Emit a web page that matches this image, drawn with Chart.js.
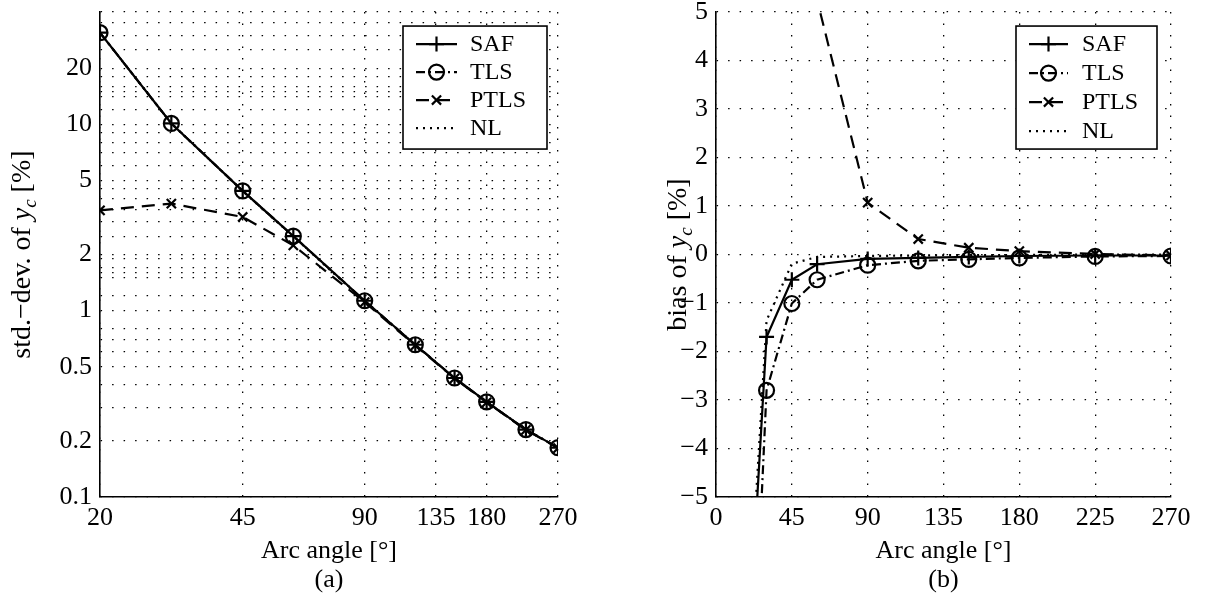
<!DOCTYPE html>
<html>
<head>
<meta charset="utf-8">
<script src="https://cdn.jsdelivr.net/npm/chart.js@4"></script>
<style>
  html, body { margin: 0; padding: 0; background: #fff; }
  body { width: 1211px; height: 598px; position: relative; overflow: hidden; }
  canvas { position: absolute; top: -7px; }
  #chart-a { left: 0; }
  #chart-b { left: 605px; }
</style>
</head>
<body>
<canvas id="chart-a" width="605" height="605"></canvas>
<canvas id="chart-b" width="606" height="605"></canvas>
<script>
const angles = [20, 30, 45, 60, 90, 120, 150, 180, 225, 270];

// (a) std.-dev. of y_c [%]
const stdSAF  = [31.0, 10.1, 4.39, 2.51, 1.13, 0.656, 0.435, 0.324, 0.230, 0.184];
const stdTLS  = [31.0, 10.1, 4.39, 2.51, 1.13, 0.656, 0.435, 0.324, 0.230, 0.184];
const stdPTLS = [3.45, 3.75, 3.18, 2.24, 1.11, 0.650, 0.433, 0.322, 0.229, 0.183];
const stdNL   = [31.0, 10.1, 4.38, 2.50, 1.12, 0.654, 0.434, 0.323, 0.230, 0.184];

// (b) bias of y_c [%]
const biasSAF  = [-7.7, -1.70, -0.52, -0.20, -0.09, -0.07, -0.05, -0.03, -0.02, -0.02];
const biasTLS  = [-10.4, -2.80, -1.01, -0.52, -0.22, -0.13, -0.10, -0.07, -0.04, -0.03];
const biasPTLS = [40, 22, 10, 5.25, 1.07, 0.32, 0.14, 0.07, 0.01, -0.02];
const biasNL   = [-7.2, -1.36, -0.19, -0.05, -0.03, -0.02, -0.01, -0.01, 0.0, 0.0];

const xTicksA = [20, 45, 90, 135, 180, 270];
const yTicksA = [0.1, 0.2, 0.5, 1, 2, 5, 10, 20];
const yGridA = [0.1, 0.2, 0.3, 0.4, 0.5, 0.6, 0.7, 0.8, 1, 1.2, 1.5, 1.6, 1.7, 1.9, 2, 2.5, 3, 3.5, 4, 4.5,
                5, 6, 7, 8, 9, 10, 12, 14, 15, 16, 18, 20, 25, 30, 35, 40];
const xTicksB = [0, 45, 90, 135, 180, 225, 270];
const yTicksB = [-5, -4, -3, -2, -1, 0, 1, 2, 3, 4, 5];

const FONT = '"Liberation Serif", "Times New Roman", serif';
Chart.defaults.font.family = FONT;
Chart.defaults.color = '#000';

const styles = {
    SAF:  { dash: [],            point: 'cross',    radius: 7.5 },
    TLS:  { dash: [9, 4, 2, 4],  point: 'circle',   radius: 7.5 },
    PTLS: { dash: [13, 8],       point: 'crossRot', radius: 6.5 },
    NL:   { dash: [2, 5],        point: false,      radius: 0 }
};

function makeDatasets(series) {
    return Object.keys(series).map(name => ({
        label: name,
        data: angles.map((a, i) => ({ x: a, y: series[name][i] })),
        borderColor: '#000',
        borderWidth: 2.2,
        borderDash: styles[name].dash,
        pointStyle: styles[name].point,
        pointRadius: styles[name].radius,
        pointBorderWidth: 2.2,
        pointBorderColor: '#000',
        pointBackgroundColor: 'rgba(0,0,0,0)',
        tension: 0
    }));
}

// y-axis title with italic y and subscript c
const yTitlePlugin = {
    id: 'yTitle',
    afterDraw(chart, args, opts) {
        const { ctx, chartArea } = chart;
        const parts = [
            { t: opts.before, font: `28px ${FONT}`, dy: 0 },
            { t: 'y', font: `italic 28px ${FONT}`, dy: 0 },
            { t: 'c', font: `italic 19px ${FONT}`, dy: 6 },
            { t: ' [%]', font: `28px ${FONT}`, dy: 0 }
        ];
        ctx.save();
        let total = 0;
        parts.forEach(p => { ctx.font = p.font; p.w = ctx.measureText(p.t).width; total += p.w; });
        ctx.translate(opts.x, (chartArea.top + chartArea.bottom) / 2);
        ctx.rotate(-Math.PI / 2);
        ctx.fillStyle = '#000';
        ctx.textBaseline = 'alphabetic';
        ctx.textAlign = 'left';
        let x = -total / 2;
        parts.forEach(p => { ctx.font = p.font; ctx.fillText(p.t, x, p.dy); x += p.w; });
        ctx.restore();
    }
};

// boxed legend in the upper right corner of the plot
const boxLegendPlugin = {
    id: 'boxLegend',
    afterDatasetsDraw(chart, args, opts) {
        const { ctx, chartArea } = chart;
        const left = chartArea.right - opts.right - opts.width;
        const top = chartArea.top + opts.top;
        ctx.save();
        ctx.fillStyle = '#fff';
        ctx.fillRect(left, top, opts.width, opts.height);
        ctx.strokeStyle = '#000';
        ctx.lineWidth = 1.6;
        ctx.strokeRect(left, top, opts.width, opts.height);
        chart.data.datasets.forEach((ds, i) => {
            const y = top + opts.firstRow + i * opts.rowGap;
            const x1 = left + opts.lineStart, x2 = left + opts.lineEnd;
            ctx.strokeStyle = '#000';
            ctx.lineWidth = ds.borderWidth;
            ctx.setLineDash(ds.borderDash);
            ctx.beginPath();
            ctx.moveTo(x1, y);
            ctx.lineTo(x2, y);
            ctx.stroke();
            ctx.setLineDash([]);
            if (ds.pointRadius > 0) {
                ctx.fillStyle = 'rgba(0,0,0,0)';
                ctx.lineWidth = ds.pointBorderWidth;
                Chart.helpers.drawPoint(ctx, {
                    pointStyle: ds.pointStyle, radius: ds.pointRadius,
                    rotation: 0, borderWidth: ds.pointBorderWidth
                }, (x1 + x2) / 2, y);
            }
            ctx.fillStyle = '#000';
            ctx.font = `24px ${FONT}`;
            ctx.textBaseline = 'middle';
            ctx.textAlign = 'left';
            ctx.fillText(ds.label, left + opts.textStart, y + 1);
        });
        ctx.restore();
    }
};

const gridStyle = { color: '#000', lineWidth: 1.3, drawTicks: false };
const borderStyle = { display: true, color: '#000', width: 1.6, dash: [1.5, 10] };
const tickFont = { size: 26, lineHeight: 0.85 };

// (a) log-log standard deviation
new Chart(document.getElementById('chart-a'), {
    type: 'line',
    data: { datasets: makeDatasets({ SAF: stdSAF, TLS: stdTLS, PTLS: stdPTLS, NL: stdNL }) },
    options: {
        responsive: false,
        animation: false,
        layout: { padding: { left: 0, right: 47, top: 0, bottom: 0 } },
        plugins: {
            legend: { display: false },
            tooltip: { enabled: false },
            yTitle: { before: 'std.\u2212dev. of ', x: 30 },
            boxLegend: { width: 144, height: 123, right: 11, top: 14, firstRow: 18, rowGap: 28,
                         lineStart: 13, lineEnd: 54, textStart: 67 }
        },
        scales: {
            x: {
                type: 'logarithmic',
                min: 20, max: 270,
                afterBuildTicks: s => { s.ticks = xTicksA.map(v => ({ value: v })); },
                afterFit: s => { s.height = 101; },
                ticks: { autoSkip: false, maxRotation: 0, padding: 10, font: tickFont,
                         callback: v => String(v) },
                grid: gridStyle,
                border: borderStyle,
                title: { display: true, text: ['Arc angle [\u00b0]', '(a)'],
                         font: { size: 26, lineHeight: 1.09 }, padding: { top: 0, bottom: 4 } }
            },
            y: {
                type: 'logarithmic',
                min: 0.1, max: 40,
                afterBuildTicks: s => { s.ticks = yGridA.map(v => ({ value: v })); },
                afterFit: s => { s.width = 100; },
                ticks: { autoSkip: false, padding: 8, font: tickFont,
                         callback: v => yTicksA.includes(v) ? String(v) : '' },
                grid: gridStyle,
                border: borderStyle
            }
        }
    },
    plugins: [yTitlePlugin, boxLegendPlugin]
});

// (b) bias
new Chart(document.getElementById('chart-b'), {
    type: 'line',
    data: { datasets: makeDatasets({ SAF: biasSAF, TLS: biasTLS, PTLS: biasPTLS, NL: biasNL }) },
    options: {
        responsive: false,
        animation: false,
        layout: { padding: { left: 0, right: 40, top: 0, bottom: 0 } },
        plugins: {
            legend: { display: false },
            tooltip: { enabled: false },
            yTitle: { before: 'bias of ', x: 81 },
            boxLegend: { width: 141, height: 123, right: 14, top: 14, firstRow: 18, rowGap: 29,
                         lineStart: 13, lineEnd: 52, textStart: 66 }
        },
        scales: {
            x: {
                type: 'linear',
                min: 0, max: 270,
                afterBuildTicks: s => { s.ticks = xTicksB.map(v => ({ value: v })); },
                afterFit: s => { s.height = 101; },
                ticks: { autoSkip: false, maxRotation: 0, padding: 10, font: tickFont,
                         callback: v => String(v) },
                grid: gridStyle,
                border: borderStyle,
                title: { display: true, text: ['Arc angle [\u00b0]', '(b)'],
                         font: { size: 26, lineHeight: 1.09 }, padding: { top: 0, bottom: 4 } }
            },
            y: {
                type: 'linear',
                min: -5, max: 5,
                afterBuildTicks: s => { s.ticks = yTicksB.map(v => ({ value: v })); },
                afterFit: s => { s.width = 111; },
                ticks: { autoSkip: false, padding: 8, font: tickFont,
                         callback: v => String(v).replace('-', '\u2212') },
                grid: gridStyle,
                border: borderStyle
            }
        }
    },
    plugins: [yTitlePlugin, boxLegendPlugin]
});
</script>
</body>
</html>
